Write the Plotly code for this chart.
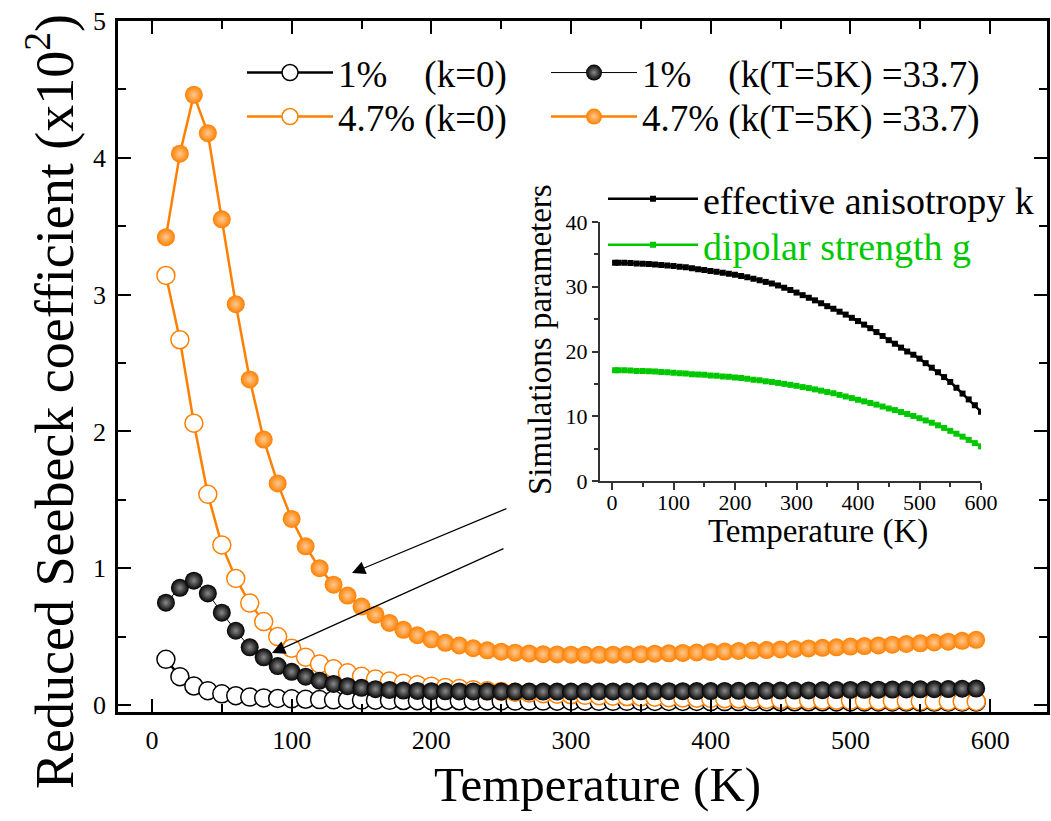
import plotly.graph_objects as go

# ---------------- data ----------------
temp = [10, 20, 30, 40, 50, 60, 70, 80, 90, 100,
        110, 120, 130, 140, 150, 160, 170, 180, 190, 200,
        210, 220, 230, 240, 250, 260, 270, 280, 290, 300,
        310, 320, 330, 340, 350, 360, 370, 380, 390, 400,
        410, 420, 430, 440, 450, 460, 470, 480, 490, 500,
        510, 520, 530, 540, 550, 560, 570, 580, 590]

s1_k0 = [0.334, 0.207, 0.139, 0.105, 0.082, 0.068, 0.058, 0.052, 0.048, 0.045,
         0.042, 0.04, 0.038, 0.037, 0.036, 0.035, 0.034, 0.033, 0.032, 0.032,
         0.031, 0.031, 0.03, 0.03, 0.03, 0.029, 0.029, 0.029, 0.028, 0.028,
         0.028, 0.027, 0.027, 0.027, 0.027, 0.026, 0.026, 0.026, 0.026, 0.025,
         0.025, 0.025, 0.025, 0.024, 0.024, 0.024, 0.024, 0.024, 0.023, 0.023,
         0.023, 0.023, 0.023, 0.022, 0.022, 0.022, 0.022, 0.022, 0.022]

s47_k0 = [3.14, 2.67, 2.06, 1.54, 1.17, 0.925, 0.745, 0.61, 0.50, 0.415,
          0.35, 0.30, 0.265, 0.235, 0.21, 0.19, 0.175, 0.16, 0.148, 0.138,
          0.128, 0.12, 0.112, 0.105, 0.099, 0.093, 0.088, 0.083, 0.079, 0.075,
          0.071, 0.068, 0.065, 0.062, 0.059, 0.057, 0.054, 0.052, 0.05, 0.048,
          0.046, 0.044, 0.043, 0.041, 0.04, 0.038, 0.037, 0.036, 0.035, 0.034,
          0.033, 0.032, 0.031, 0.03, 0.029, 0.028, 0.028, 0.027, 0.026]

s1_k = [0.748, 0.857, 0.909, 0.816, 0.675, 0.543, 0.422, 0.349, 0.285, 0.243,
        0.207, 0.178, 0.154, 0.138, 0.126, 0.116, 0.11, 0.106, 0.103, 0.101,
        0.1, 0.099, 0.099, 0.098, 0.098, 0.098, 0.098, 0.098, 0.098, 0.098,
        0.098, 0.099, 0.099, 0.099, 0.1, 0.1, 0.101, 0.101, 0.102, 0.102,
        0.103, 0.104, 0.104, 0.105, 0.106, 0.106, 0.107, 0.108, 0.109, 0.11,
        0.111, 0.112, 0.113, 0.114, 0.115, 0.116, 0.117, 0.119, 0.12]

s47_k = [3.42, 4.03, 4.46, 4.18, 3.55, 2.93, 2.38, 1.94, 1.62, 1.36,
         1.16, 1.00, 0.88, 0.80, 0.72, 0.66, 0.60, 0.55, 0.51, 0.48,
         0.455, 0.435, 0.415, 0.40, 0.39, 0.383, 0.377, 0.372, 0.37, 0.368,
         0.367, 0.367, 0.368, 0.37, 0.372, 0.375, 0.378, 0.381, 0.384, 0.388,
         0.391, 0.395, 0.398, 0.402, 0.406, 0.41, 0.414, 0.418, 0.422, 0.427,
         0.431, 0.436, 0.441, 0.446, 0.451, 0.457, 0.463, 0.469, 0.477]

inset_temp = [5, 10, 20, 30, 40, 50, 60, 70, 80, 90, 100,
              110, 120, 130, 140, 150, 160, 170, 180, 190, 200,
              210, 220, 230, 240, 250, 260, 270, 280, 290, 300,
              310, 320, 330, 340, 350, 360, 370, 380, 390, 400,
              410, 420, 430, 440, 450, 460, 470, 480, 490, 500,
              510, 520, 530, 540, 550, 560, 570, 580, 590, 600]

aniso_k = [33.7, 33.7, 33.7, 33.65, 33.6, 33.55, 33.5, 33.45, 33.35, 33.3, 33.2,
           33.1, 33.0, 32.85, 32.7, 32.6, 32.45, 32.3, 32.15, 32.0, 31.85,
           31.65, 31.45, 31.25, 31.0, 30.75, 30.5, 30.2, 29.85, 29.5, 29.1,
           28.7, 28.3, 27.9, 27.45, 27.0, 26.6, 26.15, 25.7, 25.2, 24.7,
           24.15, 23.6, 23.0, 22.4, 21.75, 21.2, 20.6, 20.0, 19.5, 18.9,
           18.2, 17.5, 16.8, 16.05, 15.3, 14.4, 13.5, 12.6, 11.7, 10.7]

dipolar_g = [17.1, 17.1, 17.1, 17.05, 17.0, 17.0, 16.95, 16.9, 16.85, 16.8, 16.7,
             16.65, 16.6, 16.5, 16.45, 16.4, 16.3, 16.25, 16.15, 16.1, 16.0,
             15.9, 15.8, 15.65, 15.55, 15.4, 15.3, 15.15, 15.0, 14.85, 14.7,
             14.5, 14.35, 14.15, 13.95, 13.75, 13.55, 13.3, 13.05, 12.8, 12.55,
             12.3, 12.05, 11.8, 11.5, 11.2, 10.95, 10.65, 10.35, 10.05, 9.7,
             9.35, 9.0, 8.6, 8.2, 7.75, 7.3, 6.85, 6.35, 5.85, 5.35]

names = ["1%\u00a0\u00a0\u00a0\u00a0(k=0)",
         "4.7%\u00a0(k=0)",
         "1%\u00a0\u00a0\u00a0\u00a0(k(T=5K)\u00a0=33.7)",
         "4.7%\u00a0(k(T=5K)\u00a0=33.7)"]
inset_names = ["effective anisotropy k", "dipolar strength g"]

ORANGE = "#ff8000"
GREEN = "#00c800"
FONT = "Liberation Serif"

# ---------------- geometry ----------------
W, H = 1051, 821
ML, MR, MT, MB = 118, 4, 21, 109
PW = W - ML - MR
PH = H - MT - MB


def px(xp):
    return (xp - ML) / PW


def py(yp):
    return (H - MB - yp) / PH


fig = go.Figure()

fig.add_trace(go.Scatter(
    x=temp, y=s1_k0, name=names[0], mode="lines+markers", legend="legend",
    line=dict(color="black", width=2.5),
    marker=dict(symbol="circle", size=18, color="white",
                line=dict(color="black", width=1.5))))
fig.add_trace(go.Scatter(
    x=temp, y=s47_k0, name=names[1], mode="lines+markers", legend="legend2",
    line=dict(color=ORANGE, width=2.5),
    marker=dict(symbol="circle", size=18, color="white",
                line=dict(color=ORANGE, width=1.5))))
fig.add_trace(go.Scatter(
    x=temp, y=s1_k, name=names[2], mode="lines+markers", legend="legend3",
    line=dict(color="black", width=1),
    marker=dict(symbol="circle", size=18, color="black",
                gradient=dict(type="radial", color="#8a8a8a"),
                line=dict(width=0))))
fig.add_trace(go.Scatter(
    x=temp, y=s47_k, name=names[3], mode="lines+markers", legend="legend4",
    line=dict(color=ORANGE, width=2.5),
    marker=dict(symbol="circle", size=18, color=ORANGE,
                gradient=dict(type="radial", color="#ffc890"),
                line=dict(width=0))))

# inset
fig.add_trace(go.Scatter(
    x=inset_temp, y=aniso_k, name=inset_names[0], mode="lines+markers",
    xaxis="x2", yaxis="y2", legend="legend5",
    line=dict(color="black", width=2.5),
    marker=dict(symbol="square", size=6, color="black")))
fig.add_trace(go.Scatter(
    x=inset_temp, y=dipolar_g, name=inset_names[1], mode="lines+markers",
    xaxis="x2", yaxis="y2", legend="legend6",
    line=dict(color=GREEN, width=2.5),
    marker=dict(symbol="square", size=6, color=GREEN)))

axis_common = dict(showline=True, linecolor="black", linewidth=2.5,
                   ticks="inside", ticklen=13, tickwidth=2, tickcolor="black",
                   mirror="ticks", showgrid=False, zeroline=False,
                   tickfont=dict(family=FONT, size=26, color="black"))

fig.update_layout(
    width=W, height=H,
    margin=dict(l=ML, r=MR, t=MT, b=MB, autoexpand=False),
    paper_bgcolor="white", plot_bgcolor="white",
    font=dict(family=FONT, color="black"),
    showlegend=True,
    xaxis=dict(range=[-24.3, 640.7], tickvals=[0, 100, 200, 300, 400, 500, 600],
               minor=dict(tickvals=[50, 150, 250, 350, 450, 550], ticks="inside",
                          ticklen=8, tickwidth=2, tickcolor="black"),
               ticklabelstandoff=3, automargin=False, **axis_common),
    yaxis=dict(range=[-0.051, 5.0], tickvals=[0, 1, 2, 3, 4, 5],
               minor=dict(tickvals=[0.5, 1.5, 2.5, 3.5, 4.5], ticks="inside",
                          ticklen=8, tickwidth=2, tickcolor="black"),
               ticklabelstandoff=4, automargin=False, **axis_common),
    xaxis2=dict(domain=[px(599.7), px(981)], anchor="y2", range=[-20, 600],
                tickvals=[0, 100, 200, 300, 400, 500, 600],
                minor=dict(tickvals=[50, 150, 250, 350, 450, 550], ticks="outside",
                           ticklen=4, tickwidth=1.5, tickcolor="#333"),
                showline=True, linecolor="#333", linewidth=1.5,
                ticks="outside", ticklen=7, tickwidth=1.5, tickcolor="#333",
                showgrid=False, zeroline=False, automargin=False,
                ticklabelstandoff=-6,
                tickfont=dict(family=FONT, size=22, color="black")),
    yaxis2=dict(domain=[py(481), py(222)], anchor="x2", range=[0, 40],
                tickvals=[0, 10, 20, 30, 40],
                minor=dict(tickvals=[5, 15, 25, 35], ticks="outside",
                           ticklen=4, tickwidth=1.5, tickcolor="#333"),
                showline=True, linecolor="#333", linewidth=1.5,
                ticks="outside", ticklen=6, tickwidth=1.5, tickcolor="#333",
                showgrid=False, zeroline=False, automargin=False,
                tickfont=dict(family=FONT, size=22, color="black")),
)

leg_common = dict(xanchor="left", yanchor="middle", bgcolor="rgba(0,0,0,0)",
                  borderwidth=0, itemclick=False, itemdoubleclick=False)
fig.update_layout(
    legend=dict(x=px(242), y=py(73), itemwidth=86,
                font=dict(family=FONT, size=37, color="black"), **leg_common),
    legend2=dict(x=px(242), y=py(117), itemwidth=86,
                 font=dict(family=FONT, size=37, color="black"), **leg_common),
    legend3=dict(x=px(546), y=py(73), itemwidth=86,
                 font=dict(family=FONT, size=37, color="black"), **leg_common),
    legend4=dict(x=px(546), y=py(117), itemwidth=86,
                 font=dict(family=FONT, size=37, color="black"), **leg_common),
    legend5=dict(x=px(603), y=py(199), itemwidth=90,
                 font=dict(family=FONT, size=38, color="black"), **leg_common),
    legend6=dict(x=px(603), y=py(245), itemwidth=90,
                 font=dict(family=FONT, size=38, color=GREEN), **leg_common),
)

annotations = [
    dict(text="Temperature (K)", x=px(597), y=py(785), xref="paper", yref="paper",
         xanchor="center", yanchor="middle", showarrow=False,
         font=dict(family=FONT, size=49, color="black")),
    dict(text="Reduced Seebeck coefficient (x10<sup>2</sup>)", x=px(50), y=py(402),
         xref="paper", yref="paper", xanchor="center", yanchor="middle",
         textangle=-90, showarrow=False,
         font=dict(family=FONT, size=54, color="black")),
    dict(text="Temperature (K)", x=px(818), y=py(531), xref="paper", yref="paper",
         xanchor="center", yanchor="middle", showarrow=False,
         font=dict(family=FONT, size=33, color="black")),
    dict(text="Simulations parameters", x=px(540), y=py(340), xref="paper",
         yref="paper", xanchor="center", yanchor="middle", textangle=-90,
         showarrow=False, font=dict(family=FONT, size=33, color="black")),
    # arrows pointing to the k != 0 curves
    dict(text="", x=143.2, y=0.965, ax=254.8, ay=1.44, xref="x", yref="y",
         axref="x", ayref="y", showarrow=True, arrowhead=2, arrowsize=2.2,
         arrowwidth=1.2, arrowcolor="black"),
    dict(text="", x=85.9, y=0.38, ax=252.7, ay=1.148, xref="x", yref="y",
         axref="x", ayref="y", showarrow=True, arrowhead=2, arrowsize=2.2,
         arrowwidth=1.2, arrowcolor="black"),
]
fig.update_layout(annotations=annotations)

fig.write_html("out.html")
